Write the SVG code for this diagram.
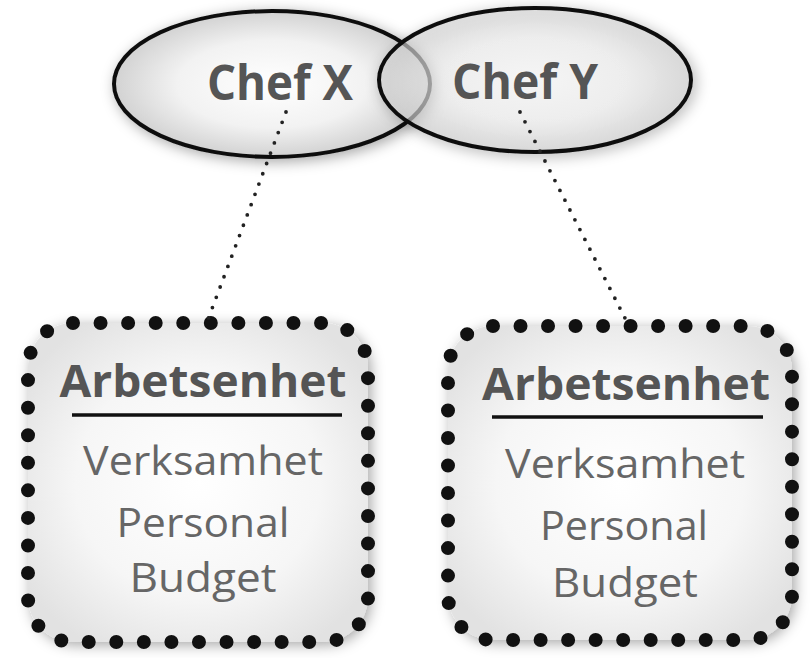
<svg xmlns="http://www.w3.org/2000/svg" width="812" height="658" viewBox="0 0 812 658">
<defs>
<radialGradient id="gEll" cx="0.5" cy="0.5" r="0.5">
<stop offset="0" stop-color="#ffffff"/>
<stop offset="0.6" stop-color="#f2f2f2"/>
<stop offset="1" stop-color="#d2d2d2"/>
</radialGradient>
<radialGradient id="gBox" cx="0.5" cy="0.5" r="0.6">
<stop offset="0" stop-color="#ffffff"/>
<stop offset="0.6" stop-color="#f6f6f6"/>
<stop offset="1" stop-color="#e2e2e2"/>
</radialGradient>
<filter id="shadow" x="-20%" y="-20%" width="140%" height="140%">
<feGaussianBlur in="SourceAlpha" stdDeviation="7"/>
<feOffset dx="3" dy="3" result="b"/>
<feFlood flood-color="#000" flood-opacity="0.35"/>
<feComposite in2="b" operator="in"/>
<feMerge><feMergeNode/><feMergeNode in="SourceGraphic"/></feMerge>
</filter>
<style>
.ell{stroke:#111;stroke-width:4;fill:url(#gEll)}
.chef{font-family:"Open Sans","Noto Sans",sans-serif;font-weight:bold;font-size:48px;fill:#555}
.boxfill{fill:url(#gBox);stroke:none}
.boxdots{fill:none;stroke:#111;stroke-width:14;stroke-linecap:round;stroke-dasharray:0 1}
.head{font-family:"Open Sans","Noto Sans",sans-serif;font-weight:bold;font-size:44px;fill:#555}
.item{font-family:"Open Sans","Noto Sans",sans-serif;font-size:41px;fill:#666}
.rule{stroke:#111;stroke-width:3.5}
.conn{fill:none;stroke:#222;stroke-width:3.8;stroke-linecap:round;stroke-dasharray:0 11}
</style>
</defs>
<rect width="812" height="658" fill="#ffffff"/>
<g id="chefX">
<ellipse class="ell" cx="272" cy="84" rx="158" ry="73" filter="url(#shadow)"/>
<text class="chef" x="280" y="100" text-anchor="middle" textLength="146" lengthAdjust="spacingAndGlyphs">Chef X</text>
</g>
<g id="chefY">
<ellipse class="ell" cx="535" cy="80" rx="156" ry="72" style="fill-opacity:0.6" filter="url(#shadow)"/>
<text class="chef" x="525" y="99" text-anchor="middle" textLength="146" lengthAdjust="spacingAndGlyphs">Chef Y</text>
</g>
<g id="unitX">
<rect class="boxfill" x="28" y="323" width="340" height="319" rx="45" filter="url(#shadow)"/>
<rect class="boxdots" x="28" y="323" width="340" height="319" rx="45" pathLength="45"/>
<text class="head" x="203" y="397" text-anchor="middle" textLength="287" lengthAdjust="spacingAndGlyphs">Arbetsenhet</text>
<line class="rule" x1="72" y1="415" x2="342" y2="415"/>
<text class="item" x="203" y="475" text-anchor="middle" textLength="240" lengthAdjust="spacingAndGlyphs">Verksamhet</text>
<text class="item" x="203" y="537" text-anchor="middle" textLength="173" lengthAdjust="spacingAndGlyphs">Personal</text>
<text class="item" x="203" y="592" text-anchor="middle" textLength="147" lengthAdjust="spacingAndGlyphs">Budget</text>
</g>
<g id="unitY">
<rect class="boxfill" x="448" y="326" width="344" height="314" rx="45" filter="url(#shadow)"/>
<rect class="boxdots" x="448" y="326" width="344" height="314" rx="45" pathLength="45"/>
<text class="head" x="626" y="400" text-anchor="middle" textLength="288" lengthAdjust="spacingAndGlyphs">Arbetsenhet</text>
<line class="rule" x1="492" y1="417" x2="763" y2="417"/>
<text class="item" x="625" y="478" text-anchor="middle" textLength="240" lengthAdjust="spacingAndGlyphs">Verksamhet</text>
<text class="item" x="624" y="540" text-anchor="middle" textLength="168" lengthAdjust="spacingAndGlyphs">Personal</text>
<text class="item" x="625" y="597" text-anchor="middle" textLength="146" lengthAdjust="spacingAndGlyphs">Budget</text>
</g>
<g id="connectors">
<line class="conn" x1="286" y1="112" x2="207" y2="322"/>
<line class="conn" x1="520" y1="112" x2="628" y2="324"/>
</g>
</svg>
